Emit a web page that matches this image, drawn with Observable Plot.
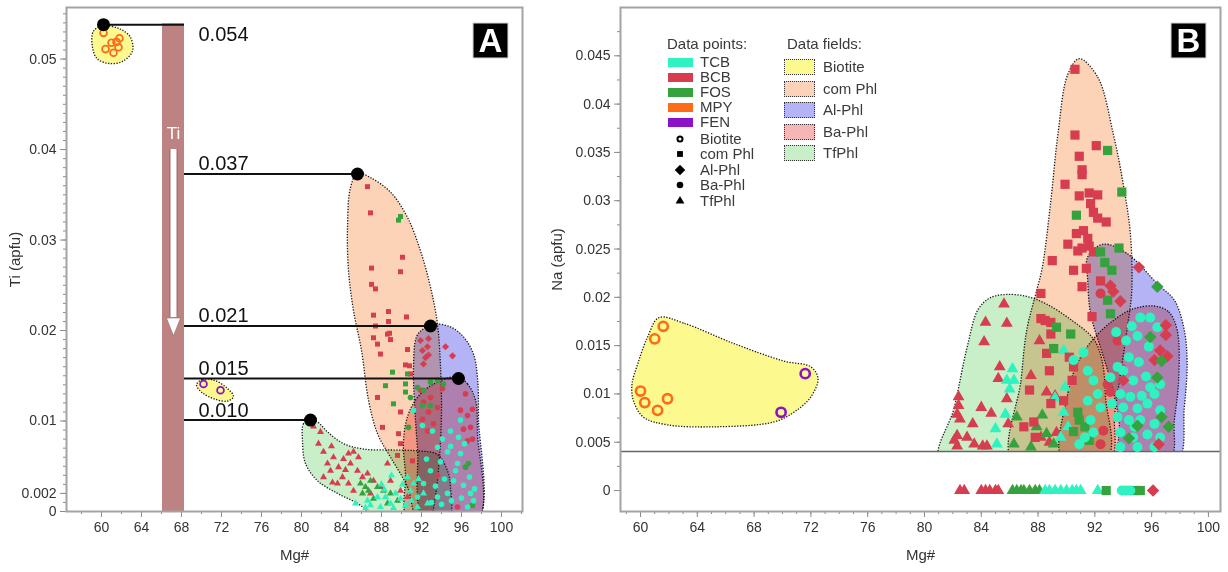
<!DOCTYPE html>
<html><head><meta charset="utf-8">
<script src="https://cdn.jsdelivr.net/npm/d3@7"></script>
<script src="https://cdn.jsdelivr.net/npm/@observablehq/plot@0.6"></script>
<style>
body{margin:0;background:#fff;font-family:"Liberation Sans",Arial,sans-serif;}
#wrap{position:relative;width:1228px;height:572px;display:flex;overflow:hidden;}
.lg{position:absolute;font-size:15px;line-height:16px;color:#3a3a3a;white-space:nowrap;}
.sw{position:absolute;}
</style></head><body><div id="wrap"></div>
<script>
// ---------- colours ----------
const sampleNames = ["TCB","BCB","FOS","MPY","FEN"];
const sampleColorList = ["#2ef2bf","#d63e50","#36a23e","#fd6c17","#8c12c9"];
const fieldNames = ["Biotite","com Phl","Al-Phl","Ba-Phl","TfPhl"];
const fieldColorList = ["#fcf98f","#fcd3b6","#b3b3f5","#f6b6b6","#c9efc9"];
const shapeNames = ["Biotite","com Phl","Al-Phl","Ba-Phl","TfPhl"];
const shapeSymbols = ["ring","square","diamond2","circle","triangle"];

// ---------- axes ----------
const xMajorTicks = [60,64,68,72,76,80,84,88,92,96,100];
const yMajorTicksA = [0,0.002,0.01,0.02,0.03,0.04,0.05];
const yMajorTicksB = [0,0.005,0.01,0.015,0.02,0.025,0.03,0.035,0.04,0.045];
const xDomainA = [56.5, 102.1], yDomainA = [0, 0.0557];
const xDomainB = [58.59, 100.85], yDomainB = [-0.00217, 0.0500];

// ---------- panel A: Ti vs Mg# ----------
const A_MPY_Biotite = [[60.2,0.0529],[61.8,0.0523],[61.0,0.0518],[61.5,0.0519],[60.4,0.0511],[61.7,0.0513],[61.2,0.0507]];
const A_FEN_Biotite = [[70.2,0.0141],[71.9,0.0134]];
const A_BCB_comPhl = [[86.6,0.0359],[86.9,0.0330],[90.1,0.0281],[87.0,0.0269],[89.9,0.0265],[87.0,0.0251],[87.4,0.0246],[88.7,0.0221],[87.2,0.0217],[90.5,0.0215],[87.4,0.0205],[88.7,0.0210],[88.8,0.0197],[87.2,0.0192],[88.6,0.0196],[88.9,0.0190],[87.6,0.0185],[90.6,0.0179],[87.9,0.0174],[90.4,0.0162],[90.8,0.0161],[90.9,0.0152],[87.6,0.0126],[89.9,0.0110],[88.1,0.0093],[89.7,0.0086],[89.9,0.0075],[89.6,0.0062],[91.1,0.0056]];
const A_FOS_comPhl = [[89.7,0.0322],[89.9,0.0326],[89.1,0.0154],[88.4,0.0139],[90.6,0.0152],[90.4,0.0141],[89.2,0.0119],[90.4,0.0132]];
const A_BCB_AlPhl = [[91.9,0.0189],[92.6,0.0182],[92.1,0.0178],[92.7,0.0173],[92.7,0.0191],[94.4,0.0182],[95.1,0.0172],[92.2,0.0163],[92.4,0.0170]];
const A_BCB_BaPhl = [[92.9,0.0126],[92.2,0.0121],[93.6,0.0115],[92.7,0.0110],[92.1,0.0102],[93.2,0.0097],[92.6,0.0089],[94.1,0.0136],[91.9,0.0134],[96.4,0.0130],[97.1,0.0113],[95.9,0.0112],[96.9,0.0093],[96.2,0.0091],[97.1,0.0080],[96.6,0.0106],[96.6,0.0078],[95.6,0.0005],[93.6,0.0040]];
const A_FOS_BaPhl = [[91.6,0.0137],[92.2,0.0134],[92.9,0.0143],[93.6,0.0145],[94.2,0.0141],[90.9,0.0126],[92.1,0.0117],[92.9,0.0117],[90.7,0.0093],[96.4,0.0049],[96.7,0.0053],[97.1,0.0007]];
const A_TCB_BaPhl = [[91.2,0.0112],[92.1,0.0095],[93.1,0.0089],[94.1,0.0080],[94.9,0.0089],[95.9,0.0101],[95.7,0.0082],[93.6,0.0071],[94.6,0.0066],[95.9,0.0064],[95.6,0.0053],[95.2,0.0034],[96.2,0.0029],[96.9,0.0020],[94.6,0.0020],[92.9,0.0045],[92.2,0.0031],[91.6,0.0016],[93.6,0.0016],[96.6,0.0005],[93.0,0.0010],[94.0,0.0008],[95.0,0.0012],[96.0,0.0015],[97.2,0.0012],[93.4,0.0028],[94.3,0.0036],[95.4,0.0045],[96.8,0.0038],[97.3,0.0025],[92.5,0.0058],[93.9,0.0055],[96.3,0.0075],[94.9,0.0072]];
const A_BCB_TfPhl = [[81.9,0.0088],[81.7,0.0075],[82.2,0.0066],[83.2,0.0060],[82.6,0.0053],[83.7,0.0049],[82.9,0.0045],[84.2,0.0058],[84.7,0.0064],[85.2,0.0066],[84.9,0.0053],[84.1,0.0038],[83.6,0.0031],[85.6,0.0045],[86.1,0.0038],[86.6,0.0042],[87.2,0.0034],[84.7,0.0031],[82.2,0.0038],[83.1,0.0032],[85.7,0.0060],[88.6,0.0053],[87.9,0.0027],[88.9,0.0034],[89.9,0.0023],[90.6,0.0016],[86.9,0.0020],[85.2,0.0023],[81.2,0.0094],[83.0,0.0072],[84.4,0.0046]];
const A_FOS_TfPhl = [[85.9,0.0031],[86.4,0.0027],[86.9,0.0034],[87.6,0.0027],[88.2,0.0023],[88.9,0.0020],[86.7,0.0023],[86.1,0.0020],[89.6,0.0012],[88.6,0.0009],[87.2,0.0014]];
const A_TCB_TfPhl = [[85.4,0.0009],[86.6,0.0012],[87.6,0.0016],[88.4,0.0016],[88.9,0.0009],[89.9,0.0014],[90.4,0.0007],[90.9,0.0023],[91.2,0.0031],[91.7,0.0036],[92.2,0.0020],[92.6,0.0009],[87.9,0.0005],[86.9,0.0007],[89.4,0.0020],[90.6,0.0038],[88.0,0.0030],[89.0,0.0040],[90.1,0.0030],[91.0,0.0012],[91.6,0.0005],[89.2,0.0004],[88.3,0.0024],[86.4,0.0004]];

const A_field_Biotite = [[59.2,0.0531],[60.2,0.0537],[61.9,0.0533],[62.9,0.0524],[63.1,0.0509],[62.2,0.0498],[60.9,0.0495],[59.6,0.0500],[59.1,0.0513]];
const A_field_FEN = [[69.5,0.0140],[70.1,0.0146],[71.3,0.0145],[72.6,0.0136],[73.2,0.0127],[72.6,0.0122],[71.4,0.0124],[70.1,0.0131]];
const A_field_comPhl = [[85.6,0.0374],[86.9,0.0369],[88.9,0.0353],[90.6,0.0325],[91.9,0.0288],[92.9,0.0248],[93.6,0.0207],[93.9,0.0160],[94.0,0.0110],[93.8,0.0060],[93.3,0.0010],[92.8,-0.001],[91.6,-0.001],[90.6,0.0027],[88.9,0.0060],[87.6,0.0086],[86.7,0.0123],[86.0,0.0178],[85.2,0.0222],[84.7,0.0266],[84.6,0.0314],[84.9,0.0358]];
const A_field_AlPhl = [[92.2,0.0202],[93.2,0.0207],[94.9,0.0204],[96.2,0.0193],[97.2,0.0174],[97.6,0.0148],[97.7,0.0104],[97.6,-0.001],[92.3,-0.001],[91.6,0.0070],[91.3,0.0120],[91.2,0.0160],[91.5,0.0193]];
const A_field_BaPhl = [[95.6,0.0149],[96.6,0.0141],[97.4,0.0123],[97.6,0.0086],[97.6,-0.001],[90.7,-0.001],[90.4,0.0041],[90.2,0.0078],[90.7,0.0108],[91.9,0.0130],[93.6,0.0143]];
const A_field_TfPhl = [[80.9,0.0101],[80.2,0.0097],[80.1,0.0078],[80.4,0.0053],[81.6,0.0034],[83.6,0.0020],[85.6,0.0009],[87.2,-0.0003],[94.6,-0.001],[94.9,0.0027],[94.6,0.0045],[93.6,0.0063],[91.6,0.0067],[88.9,0.0068],[86.2,0.0069],[84.2,0.0075],[82.6,0.0088],[81.6,0.0099]];

// Ti annotation
const tiLevelValues = [0.0538, 0.0373, 0.0205, 0.0147, 0.0101];
const tiLevelLabels = ["0.054","0.037","0.021","0.015","0.010"];
const tiLevelMg = [60.2, 85.6, 92.9, 95.7, 80.9];
const barMg = [66.1, 68.3];
const barTopTi = 0.0539;
const arrowMg = 67.2;
const arrowShaftTi = [0.0400, 0.0214];
const arrowHeadTi = 0.0204;
const arrowTextTi = 0.0418;
const levelLabelMg = 69.7;

// ---------- panel B: Na vs Mg# ----------
const naDetectionLine = 0.00405;
const B_MPY_Biotite = [[61.6,0.0170],[61.0,0.0157],[60.0,0.0103],[60.3,0.0091],[61.2,0.0083],[61.9,0.0095]];
const B_FEN_Biotite = [[71.6,0.0121],[69.9,0.0081]];
const B_BCB_comPhl = [[90.6,0.0436],[90.6,0.0368],[92.1,0.0357],[90.9,0.0346],[91.1,0.0332],[91.1,0.0327],[89.9,0.0317],[90.9,0.0305],[91.6,0.0308],[92.2,0.0306],[91.7,0.0297],[91.9,0.0288],[92.2,0.0282],[92.8,0.0278],[91.2,0.0269],[90.7,0.0266],[91.5,0.0261],[90.1,0.0255],[90.8,0.0248],[91.1,0.0251],[91.6,0.0253],[89.0,0.0238],[90.5,0.0228],[91.4,0.0230],[91.9,0.0247],[92.4,0.0217],[91.1,0.0211],[91.8,0.0180],[88.2,0.0204],[88.2,0.0178],[88.5,0.0176],[88.9,0.0174],[88.9,0.0162],[88.6,0.0142],[88.8,0.0124],[87.4,0.0104],[88.9,0.0090],[87.0,0.0066],[87.7,0.0071],[87.8,0.0055],[90.2,0.0138],[90.5,0.0128],[90.4,0.0114],[89.8,0.0093]];
const B_FOS_comPhl = [[92.9,0.0352],[93.9,0.0309],[90.7,0.0285],[92.4,0.0247],[93.7,0.0251],[92.7,0.0236],[93.2,0.0228],[92.9,0.0197],[93.1,0.0183],[89.3,0.0169],[90.3,0.0162],[89.1,0.0147],[90.8,0.0081],[90.9,0.0073],[90.5,0.0061],[91.3,0.0066],[91.6,0.0052],[92.8,0],[94.9,0],[95.2,0]];
const B_BCB_AlPhl = [[95.1,0.0231],[93.1,0.0212],[93.3,0.0206],[93.8,0.0196],[97.0,0.0171],[97.0,0.0161],[96.6,0.0145],[97.1,0.0139],[96.2,0.0135],[94.0,0.0114],[96.5,0.0048],[96.1,0]];
const B_FOS_AlPhl = [[96.4,0.0211],[95.9,0.0159],[96.7,0.0134],[96.4,0.0117],[96.7,0.0076],[95.0,0.0067],[94.4,0.0054],[97.2,0.0066]];
const B_BCB_BaPhl = [[92.4,0.0204],[93.6,0.0155],[92.9,0.0110],[93.1,0.0102],[92.4,0.0048],[92.6,0.0062],[93.9,0.0126]];
const B_TCB_BaPhl = [[93.5,0.0164],[94.2,0.0155],[95.0,0.0160],[95.2,0.0179],[95.9,0.0179],[96.4,0.0169],[95.8,0.0149],[94.4,0.0138],[95.1,0.0133],[93.6,0.0128],[93.1,0.0117],[94.0,0.0124],[94.7,0.0114],[95.9,0.0107],[96.6,0.0110],[93.8,0.0100],[94.5,0.0097],[95.3,0.0098],[96.2,0.0100],[94.0,0.0086],[95.0,0.0085],[95.7,0.0090],[96.6,0.0083],[93.6,0.0076],[94.4,0.0073],[95.2,0.0073],[96.2,0.0069],[93.8,0.0060],[94.7,0.0055],[95.7,0.0058],[96.6,0.0055],[96.2,0.0045],[95.0,0.0045],[93.8,0.0045],[91.5,0.0124],[91.9,0.0114],[92.2,0.0100],[91.5,0.0093],[92.4,0.0086],[91.7,0.0073],[91.9,0.0060],[91.3,0.0055],[90.9,0.0048],[90.5,0.0135],[91.2,0.0143],[94.8,0.0066],[93.2,0.0090],[95.6,0.0118],[94.6,0.0170],[93.9,0],[94.2,0],[94.5,0]];
const B_BCB_TfPhl = [[85.6,0.0193],[84.3,0.0174],[85.8,0.0173],[84.2,0.0154],[85.3,0.0128],[85.2,0.0116],[85.8,0.0095],[82.4,0.0097],[82.4,0.0088],[82.3,0.0079],[82.5,0.0074],[83.4,0.0069],[84.0,0.0086],[84.7,0.0080],[82.3,0.0057],[82.1,0.0052],[83.0,0.0055],[83.5,0.0048],[84.1,0.0046],[84.4,0.0046],[85.9,0.0069],[82.3,0.0046],[88.1,0.0155],[87.5,0.0119],[88.6,0.0102],[89.2,0.0098],[89.3,0.0060],[88.2,0.0055],[88.8,0.0050],[82.5,0],[82.8,0],[84.0,0],[84.3,0],[84.6,0],[85.0,0],[85.2,0]];
const B_FOS_TfPhl = [[88.3,0.0078],[87.9,0.0066],[88.6,0.0059],[89.1,0.0048],[86.5,0.0076],[86.3,0.0048],[87.5,0.0045],[86.2,0],[86.5,0],[86.8,0],[87.0,0],[87.4,0],[87.8,0],[88.1,0]];
const B_TCB_TfPhl = [[86.2,0.0126],[85.8,0.0114],[86.3,0.0114],[89.8,0.0145],[89.9,0.0107],[89.2,0.0096],[85.0,0.0064],[85.1,0.0048],[85.7,0.0079],[89.8,0.0081],[90.1,0.0066],[89.6,0.0055],[86.0,0.0105],[88.5,0],[88.8,0],[89.2,0],[89.6,0],[90.0,0],[90.4,0],[90.7,0],[91.0,0],[92.2,0]];

const B_field_Biotite = [[61.3,0.0179],[63.1,0.0173],[66.6,0.0152],[70.1,0.0134],[72.0,0.0128],[72.5,0.0116],[72.0,0.0097],[70.8,0.0081],[69.4,0.0071],[65.4,0.0066],[61.9,0.0068],[60.2,0.0076],[59.5,0.0093],[59.4,0.0110],[59.8,0.0131],[60.5,0.0159]];
const B_field_comPhl = [[90.9,0.0447],[92.2,0.0428],[93.3,0.0369],[94.0,0.0317],[94.5,0.0266],[94.6,0.0207],[94.3,0.0170],[93.8,0.0120],[93.4,0.0080],[93.0,0.0030],[86.2,0.0030],[86.8,0.0114],[87.2,0.0166],[87.9,0.0207],[88.3,0.0231],[88.9,0.0300],[89.4,0.0369],[90.1,0.0431]];
const B_field_AlPhl = [[92.6,0.0255],[94.3,0.0245],[96.4,0.0214],[97.6,0.0197],[98.3,0.0166],[98.5,0.0131],[98.3,0.0086],[97.8,0.0030],[93.9,0.0030],[93.7,0.0073],[93.1,0.0114],[92.4,0.0148],[91.7,0.0183],[91.5,0.0217],[91.5,0.0242]];
const B_field_BaPhl = [[96.2,0.0191],[97.2,0.0185],[97.8,0.0166],[97.9,0.0114],[97.6,0.0073],[97.2,0.0030],[89.8,0.0030],[90.05,0.0097],[90.75,0.0131],[91.9,0.0157],[93.3,0.0176],[94.7,0.0188]];
const B_field_TfPhl = [[81.1,0.0030],[82.1,0.0086],[83.0,0.0148],[83.8,0.0188],[84.7,0.0200],[85.8,0.0203],[87.2,0.0201],[88.6,0.0193],[90.3,0.0177],[91.9,0.0157],[92.5,0.0135],[92.75,0.0097],[92.75,0.0030]];

// ---------- helpers ----------
const sampleColor = Object.fromEntries(sampleNames.map((n,i)=>[n,sampleColorList[i]]));
const fieldColor = Object.fromEntries(fieldNames.map((n,i)=>[n,fieldColorList[i]]));
const FONT = "'Liberation Sans', Arial, sans-serif";

// fields are the only line marks in both charts
function fieldMarks(fields) {
  return fields.map(([pts, name]) => Plot.line(pts, {
    x: d => d[0], y: d => d[1], curve: "catmull-rom-closed",
    fill: fieldColor[name], stroke: "#1a1a1a", strokeWidth: 1.3,
    strokeDasharray: "1.3 1.5", strokeLinecap: "butt", clip: true
  }));
}
function dotMarks(groups, sz) {
  return groups.map(([data, sample, shape]) => {
    const c = sampleColor[sample];
    const ring = shape === "ring";
    return Plot.dot(data, {
      x: d => d[0], y: d => d[1],
      symbol: ring ? "circle" : shape, r: sz[shape],
      fill: ring ? "none" : c, stroke: ring ? c : "none",
      strokeWidth: ring ? sz.ringWidth : 0
    });
  });
}
function axes(xMinor, yMajor, yMinor, ylabel, yLabelDx) {
  return [
    Plot.axisX({ticks: xMinor, tickSize: 3, stroke: "#8a8a8a", tickFormat: () => "", label: null}),
    Plot.axisX({ticks: xMajorTicks, tickSize: 6, tickPadding: 5, stroke: "#8a8a8a", tickFormat: d => String(d), label: null}),
    Plot.axisY({ticks: yMinor, tickSize: 3, stroke: "#8a8a8a", tickFormat: () => "", label: null}),
    Plot.axisY({ticks: yMajor, tickSize: 6, tickPadding: 4, stroke: "#8a8a8a", tickFormat: d => String(d), label: null}),
    Plot.text(["Mg#"], {frameAnchor: "bottom", dy: 44, text: d => d, textAnchor: "middle", lineAnchor: "middle", fontSize: 15, fill: "#333"}),
    Plot.text([ylabel], {frameAnchor: "left", dx: yLabelDx, text: d => d, rotate: -90, textAnchor: "middle", lineAnchor: "middle", fontSize: 15, fill: "#333"}),
    Plot.frame({stroke: "#a3a3a3", strokeWidth: 2})
  ];
}
function tagMarks(letter) {
  return [
    Plot.dot([letter], {frameAnchor: "top-right", dx: -32, dy: 33, symbol: "square", r: 19.7, fill: "#000", stroke: "#ccc", strokeWidth: 1}),
    Plot.text([letter], {frameAnchor: "top-right", dx: -32, dy: 34, text: d => d, textAnchor: "middle", lineAnchor: "middle", fill: "#fff", fontSize: 33, fontWeight: "bold"})
  ];
}
const downTriangle = {draw(ctx, size) { const s = Math.sqrt(size/Math.PI); ctx.moveTo(-0.8*s,-s); ctx.lineTo(0.8*s,-s); ctx.lineTo(0,s); ctx.closePath(); }};

// ---------- panel A ----------
const levels = tiLevelValues.map((v,i) => ({y: v, mg: tiLevelMg[i], label: tiLevelLabels[i],
  x1: Math.min(tiLevelMg[i], barMg[1]), x2: Math.max(tiLevelMg[i], barMg[1])}));
const szA = {ring: 3.4, ringWidth: 1.8, square: 2.8, diamond2: 3.2, circle: 2.8, triangle: 2.6};
const chartA = Plot.plot({
  width: 545, height: 572, marginLeft: 66, marginRight: 23, marginTop: 7, marginBottom: 61,
  x: {domain: xDomainA}, y: {domain: yDomainA},
  style: {fontFamily: FONT, fontSize: "14px", color: "#333", background: "#fff"},
  marks: [
    ...fieldMarks([[A_field_comPhl,"com Phl"],[A_field_TfPhl,"TfPhl"],[A_field_AlPhl,"Al-Phl"],[A_field_BaPhl,"Ba-Phl"],[A_field_Biotite,"Biotite"],[A_field_FEN,"Biotite"]]),
    Plot.rect([barMg], {x1: d => d[0], x2: d => d[1], y1: 0, y2: barTopTi, fill: "#bd8383"}),
    Plot.ruleX([arrowMg], {x: d => d, y1: arrowShaftTi[0], y2: arrowShaftTi[1], stroke: "#9b7070", strokeWidth: 8.5}),
    Plot.ruleX([arrowMg], {x: d => d, y1: arrowShaftTi[0], y2: arrowShaftTi[1], stroke: "#fff", strokeWidth: 6, strokeLinecap: "butt"}),
    Plot.dot([arrowMg], {x: d => d, y: arrowHeadTi, symbol: downTriangle, r: 9, fill: "#fff", stroke: "#9b7070", strokeWidth: 0.8}),
    Plot.text(["Ti"], {x: arrowMg, y: arrowTextTi, text: d => d, fill: "#fff", fontSize: 17}),
    ...dotMarks([
      [A_BCB_TfPhl,"BCB","triangle"],[A_FOS_TfPhl,"FOS","triangle"],[A_TCB_TfPhl,"TCB","triangle"],
      [A_BCB_comPhl,"BCB","square"],[A_FOS_comPhl,"FOS","square"],
      [A_BCB_AlPhl,"BCB","diamond2"],
      [A_BCB_BaPhl,"BCB","circle"],[A_FOS_BaPhl,"FOS","circle"],[A_TCB_BaPhl,"TCB","circle"],
      [A_MPY_Biotite,"MPY","ring"],[A_FEN_Biotite,"FEN","ring"]
    ], szA),
    Plot.ruleY(levels, {y: "y", x1: "x1", x2: "x2", stroke: "#111", strokeWidth: 2}),
    Plot.dot(levels, {x: "mg", y: "y", r: 6.5, fill: "#000"}),
    Plot.text(levels.slice(0,1), {x: levelLabelMg, y: "y", text: "label", textAnchor: "start", dy: 10, fontSize: 20, fill: "#111"}),
    Plot.text(levels.slice(1), {x: levelLabelMg, y: "y", text: "label", textAnchor: "start", dy: -10, fontSize: 20, fill: "#111"}),
    ...tagMarks("A"),
    ...axes(d3.range(58, 102.01, 2), yMajorTicksA, d3.range(0, 0.0556, 0.001), "Ti (apfu)", -51)
  ]
});

// ---------- panel B ----------
const szB = {ring: 4.6, ringWidth: 2.6, square: 5.2, diamond2: 5.6, circle: 5.0, triangle: 4.4};
const chartB = Plot.plot({
  width: 683, height: 572, marginLeft: 75, marginRight: 8, marginTop: 7, marginBottom: 61,
  x: {domain: xDomainB}, y: {domain: yDomainB},
  style: {fontFamily: FONT, fontSize: "14px", color: "#333", background: "#fff"},
  marks: [
    ...fieldMarks([[B_field_comPhl,"com Phl"],[B_field_TfPhl,"TfPhl"],[B_field_AlPhl,"Al-Phl"],[B_field_BaPhl,"Ba-Phl"],[B_field_Biotite,"Biotite"]]),
    Plot.rect([naDetectionLine], {x1: xDomainB[0], x2: xDomainB[1], y1: yDomainB[0], y2: d => d, fill: "#fff"}),
    Plot.ruleY([naDetectionLine], {y: d => d, stroke: "#666", strokeWidth: 1.5}),
    ...dotMarks([
      [B_BCB_TfPhl,"BCB","triangle"],[B_FOS_TfPhl,"FOS","triangle"],[B_TCB_TfPhl,"TCB","triangle"],
      [B_BCB_comPhl,"BCB","square"],[B_FOS_comPhl,"FOS","square"],
      [B_BCB_BaPhl,"BCB","circle"],[B_TCB_BaPhl,"TCB","circle"],
      [B_BCB_AlPhl,"BCB","diamond2"],[B_FOS_AlPhl,"FOS","diamond2"],
      [B_MPY_Biotite,"MPY","ring"],[B_FEN_Biotite,"FEN","ring"]
    ], szB),
    ...tagMarks("B"),
    ...axes(d3.range(59, 100.9, 1), yMajorTicksB, d3.range(0.0025, 0.0499, 0.0025), "Na (apfu)", -63)
  ]
});

// fields overlap like transparencies: multiply-blend each field group (the clipped <g>)
for (const chart of [chartA, chartB]) {
  d3.select(chart).selectAll('g[aria-label="line"]').style("mix-blend-mode", "multiply");
}

const wrap = document.getElementById("wrap");
wrap.append(chartA, chartB);

// ---------- legend (inside panel B) ----------
function addEl(cls, left, top, text, style) {
  const el = document.createElement("div");
  el.className = cls; el.style.left = left + "px"; el.style.top = top + "px";
  if (text != null) el.textContent = text;
  Object.assign(el.style, style || {});
  wrap.append(el); return el;
}
addEl("lg", 667, 36, "Data points:");
sampleNames.forEach((n,i) => {
  const cy = 62 + i*15;
  addEl("sw", 668, cy-4, null, {width: "25px", height: "9px", background: sampleColorList[i]});
  addEl("lg", 700, cy-8, n);
});
const symMap = {ring: d3.symbolCircle, square: d3.symbolSquare, diamond2: d3.symbolDiamond2, circle: d3.symbolCircle, triangle: d3.symbolTriangle};
shapeNames.forEach((n,i) => {
  const cy = 138.5 + i*15.5;
  const sym = shapeSymbols[i];
  const svg = d3.create("svg").attr("width", 12).attr("height", 12).style("position","absolute")
    .style("left", (680-6)+"px").style("top", (cy-6)+"px");
  const size = sym === "ring" ? 20 : sym === "diamond2" ? 70 : 34;
  svg.append("path").attr("transform","translate(6,6)").attr("d", d3.symbol(symMap[sym], size)())
    .attr("fill", sym === "ring" ? "none" : "#000").attr("stroke", sym === "ring" ? "#000" : "none").attr("stroke-width", 2);
  wrap.append(svg.node());
  addEl("lg", 700, cy-8, n);
});
addEl("lg", 787, 36, "Data fields:");
fieldNames.forEach((n,i) => {
  const cy = 67 + i*21.5;
  addEl("sw", 784, cy-8, null, {width: "29px", height: "14px", background: fieldColorList[i], border: "1.6px dotted #333"});
  addEl("lg", 823, cy-8, n);
});
</script></body></html>
